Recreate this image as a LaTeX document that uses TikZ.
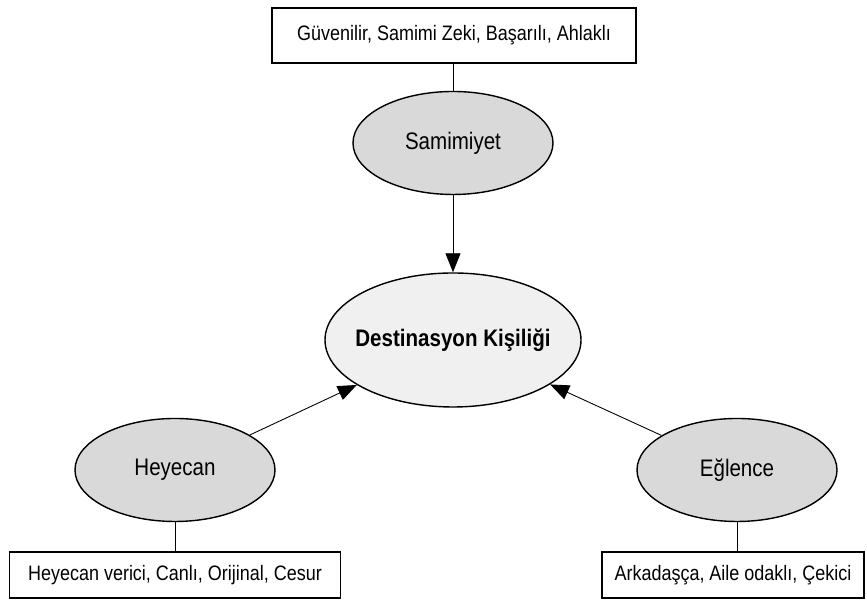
\documentclass[tikz,border=0pt]{standalone}
\usepackage{fontspec}
\setmainfont[FakeStretch=0.86]{Liberation Sans}
\usetikzlibrary{shapes.geometric, arrows.meta}
\definecolor{ovalgray}{HTML}{D9D9D9}
\definecolor{coregray}{HTML}{F0F0F0}

\begin{document}
\begin{tikzpicture}[
		font=\fontsize{11.9}{14}\selectfont,
		trait/.style={draw, line width=0.6pt, inner sep=0pt, minimum height=0.92cm},
		facet/.style={ellipse, draw, line width=0.8pt, fill=ovalgray, inner sep=0pt, minimum width=4cm, minimum height=2.06cm, font=\fontsize{13.6}{16}\selectfont},
		link/.style={line width=0.5pt},
		feed/.style={line width=0.5pt, -{Triangle[length=0.38cm, width=0.3cm]}}
	]
		\useasboundingbox (0, 0) rectangle (17.34, 12.02);
		\node[ellipse, draw, line width=0.8pt, fill=coregray, inner xsep=-0.3cm, inner ysep=0pt, minimum width=5.12cm, minimum height=2.68cm, font=\fontsize{13.6}{16}\selectfont\bfseries] (core) at (9.06, 5.22) {Destinasyon Kişiliği};
		\node[facet] (samimiyet) at (9.06, 9.16) {Samimiyet};
		\node[facet] (heyecan) at (3.5, 2.62) {Heyecan};
		\node[facet] (eglence) at (14.74, 2.62) {Eğlence};
		\node[trait, minimum width=7.28cm, minimum height=1.1cm] (samimiyetlist) at (9.08, 11.31) {Güvenilir, Samimi Zeki, Başarılı, Ahlaklı};
		\node[trait, minimum width=6.62cm] (heyecanlist) at (3.5, 0.52) {Heyecan verici, Canlı, Orijinal, Cesur};
		\node[trait, minimum width=5.24cm] (eglencelist) at (14.66, 0.52) {Arkadaşça, Aile odaklı, Çekici};
		\draw[link] (samimiyetlist.south -| samimiyet.north) -- (samimiyet);
		\draw[link] (heyecan) -- (heyecanlist.north -| heyecan.south);
		\draw[link] (eglence) -- (eglencelist.north -| eglence.south);
		\draw[feed] (samimiyet) -- (core);
		\draw[feed] (heyecan) -- (core);
		\draw[feed] (eglence) -- (core);
	\end{tikzpicture}
\end{document}
